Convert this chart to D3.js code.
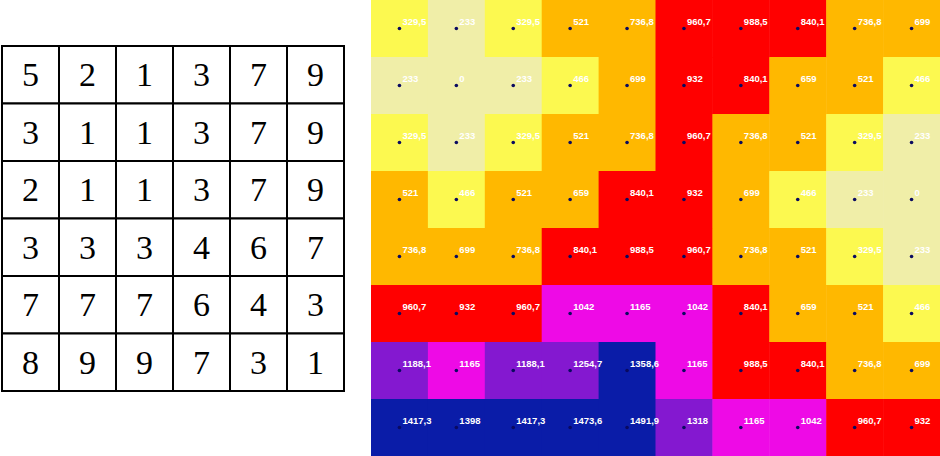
<!DOCTYPE html>
<html><head><meta charset="utf-8">
<script src="https://cdn.jsdelivr.net/npm/d3@7"></script>
<style>html,body{margin:0;padding:0;background:#fff;}svg{display:block;}</style>
</head><body>
<svg id="c" width="940" height="456"></svg>
<script>
// Left table (6x6 integer grid)
const tableRows = [
  [5,2,1,3,7,9],
  [3,1,1,3,7,9],
  [2,1,1,3,7,9],
  [3,3,3,4,6,7],
  [7,7,7,6,4,3],
  [8,9,9,7,3,1]
];
// Right heatmap (8 rows x 10 columns)
const heatRows = [
  [329.5,233,329.5,521,736.8,960.7,988.5,840.1,736.8,699],
  [233,0,233,466,699,932,840.1,659,521,466],
  [329.5,233,329.5,521,736.8,960.7,736.8,521,329.5,233],
  [521,466,521,659,840.1,932,699,466,233,0],
  [736.8,699,736.8,840.1,988.5,960.7,736.8,521,329.5,233],
  [960.7,932,960.7,1042,1165,1042,840.1,659,521,466],
  [1188.1,1165,1188.1,1254.7,1358.6,1165,988.5,840.1,736.8,699],
  [1417.3,1398,1417.3,1473.6,1491.9,1318,1165,1042,960.7,932]
];
const thresholds = [300,500,800,1000,1180,1340];
const palette = ["#f0eea8","#fcf950","#ffb800","#ff0000","#ee0ae6","#8418d0","#0a1ca8"];

const svg = d3.select("#c");

// ---- table ----
const tx = d3.scaleBand().domain(d3.range(6)).range([2,344]);
const ty = d3.scaleBand().domain(d3.range(6)).range([46,391]);
const tcells = [];
tableRows.forEach((r,i)=>r.forEach((v,j)=>tcells.push({i,j,v})));
const tg = svg.append("g");
tg.selectAll("rect").data(tcells).join("rect")
  .attr("x",d=>tx(d.j)).attr("y",d=>ty(d.i))
  .attr("width",tx.bandwidth()).attr("height",ty.bandwidth())
  .attr("fill","#fff").attr("stroke","#000").attr("stroke-width",2);
tg.selectAll("text").data(tcells).join("text")
  .attr("x",d=>tx(d.j)+tx.bandwidth()/2)
  .attr("y",d=>ty(d.i)+ty.bandwidth()/2+11.5)
  .attr("text-anchor","middle")
  .attr("font-family","'Liberation Serif','Times New Roman',serif")
  .attr("font-size",34).attr("fill","#000")
  .text(d=>d.v);

// ---- heatmap ----
const hx = d3.scaleBand().domain(d3.range(10)).range([371,940]);
const hy = d3.scaleBand().domain(d3.range(8)).range([0,456]);
const color = d3.scaleThreshold().domain(thresholds).range(palette);
const hcells = [];
heatRows.forEach((r,i)=>r.forEach((v,j)=>hcells.push({i,j,v})));
const hg = svg.append("g");
hg.selectAll("rect").data(hcells).join("rect")
  .attr("x",d=>hx(d.j)).attr("y",d=>hy(d.i))
  .attr("width",hx.bandwidth()+0.5).attr("height",hy.bandwidth()+0.5)
  .attr("fill",d=>color(d.v));
hg.selectAll("circle").data(hcells).join("circle")
  .attr("cx",d=>hx(d.j)+hx.bandwidth()/2)
  .attr("cy",d=>hy(d.i)+hy.bandwidth()/2)
  .attr("r",1.8).attr("fill","#0a0a60");
const fmt = v => String(v).replace(".",",");
hg.selectAll("text").data(hcells).join("text")
  .attr("x",d=>hx(d.j)+hx.bandwidth()/2+3)
  .attr("y",d=>hy(d.i)+hy.bandwidth()/2-3.5)
  .attr("font-family","'Liberation Sans',Arial,sans-serif")
  .attr("font-weight","bold").attr("font-size",9.5)
  .attr("fill","#fff")
  .text(d=>fmt(d.v));
</script>
</body></html>
